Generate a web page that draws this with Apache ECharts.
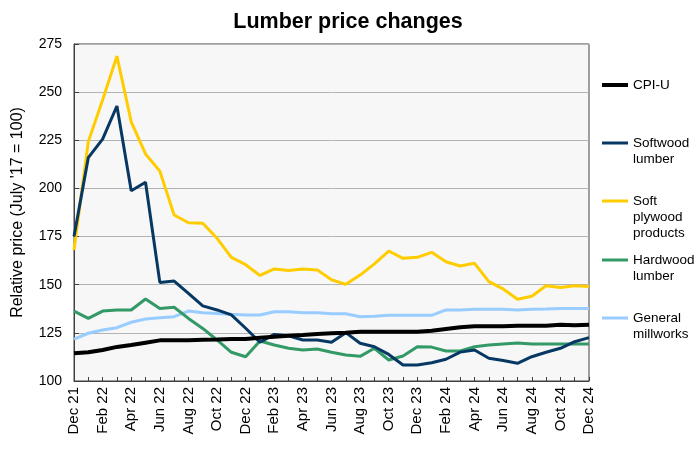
<!DOCTYPE html>
<html>
<head>
<meta charset="utf-8">
<script src="https://cdn.jsdelivr.net/npm/echarts@6/dist/echarts.min.js"></script>
<style>html,body{margin:0;padding:0;background:#fff}#c{width:696px;height:450px}</style>
</head>
<body>
<div id="c"></div>
<script>
const months = ["Dec 21","Jan 22","Feb 22","Mar 22","Apr 22","May 22","Jun 22","Jul 22","Aug 22","Sep 22","Oct 22","Nov 22",
  "Dec 22","Jan 23","Feb 23","Mar 23","Apr 23","May 23","Jun 23","Jul 23","Aug 23","Sep 23","Oct 23","Nov 23",
  "Dec 23","Jan 24","Feb 24","Mar 24","Apr 24","May 24","Jun 24","Jul 24","Aug 24","Sep 24","Oct 24","Nov 24","Dec 24"];
const cpiU = [114.4,114.9,116.1,117.7,118.7,119.9,121.1,121.1,121.1,121.4,121.5,121.8,121.8,122.5,123.0,123.5,123.9,124.4,124.8,125.1,125.6,125.6,125.6,125.6,125.6,126.1,127.0,127.9,128.4,128.4,128.4,128.7,128.7,128.7,129.2,128.9,129.2];
const softwoodLumber = [175,216,225.6,242.8,198.8,203.2,151.2,151.9,145.5,139,136.9,134.3,127.4,120.1,124.2,123.5,121.3,121.3,120.1,125.1,119.6,117.8,113.8,108.3,108.3,109.5,111.3,115,116.1,111.8,110.6,109.2,112.6,114.9,117,120.4,122.5];
const softPlywood = [168,224.3,245.9,268.7,234.6,217.9,209,186.2,182.2,181.9,174.1,164.2,160.4,154.8,158.2,157.4,158.2,157.7,152.6,150.2,155,160.8,167.5,163.7,164.2,166.8,161.9,159.7,161.1,151.6,147.8,142.5,144,149.5,148.6,149.5,149.1];
const hardwoodLumber = [136.3,132.5,136.3,136.9,136.9,142.6,137.7,138.3,132.5,127.3,121.3,114.9,112.6,120.8,118.7,117,116.1,116.6,114.9,113.5,112.8,117,110.9,113,117.8,117.6,115.6,115.6,117.8,118.7,119.2,119.7,119.2,119.2,119.2,119.2,119.2];
const generalMillworks = [121.8,124.8,126.5,127.7,130.5,132.2,132.9,133.4,136.3,135.5,135.1,134.6,134.3,134.3,136,136,135.5,135.5,134.9,134.9,133.4,133.6,134.1,134.1,134.1,134.1,136.9,136.9,137.3,137.3,137.3,136.9,137.3,137.4,137.7,137.7,137.7];

const seriesDefs = [
  {name:"CPI-U", data:cpiU, color:"#000000", width:4, label:"CPI-U", top:85},
  {name:"Softwood lumber", data:softwoodLumber, color:"#073763", width:3, label:"Softwood\nlumber", top:143},
  {name:"Soft plywood products", data:softPlywood, color:"#ffcc00", width:3, label:"Soft\nplywood\nproducts", top:201},
  {name:"Hardwood lumber", data:hardwoodLumber, color:"#339966", width:3, label:"Hardwood\nlumber", top:260},
  {name:"General millworks", data:generalMillworks, color:"#99ccff", width:3, label:"General\nmillworks", top:318}
];
const FONT = "'Liberation Sans', Arial, sans-serif";
const LH = 16;

const chart = echarts.init(document.getElementById('c'), null, {renderer:'canvas'});
chart.setOption({
  animation:false,
  textStyle:{fontFamily:FONT},
  title:{text:"Lumber price changes", left:'center', top:6,
    textStyle:{fontFamily:FONT, fontSize:21.5, fontWeight:'bold', color:'#000'}},
  legend: seriesDefs.map(s => {
    const lines = s.label.split("\n");
    const n = lines.length;
    const padded = Array(n-1).fill("\u00a0").concat(lines).join("\n");
    return {
      data:[s.name], left:602, top:s.top - (2*n-1)*LH/2, orient:'vertical',
      icon:'rect', itemWidth:26, itemHeight:s.width, itemGap:0, padding:0,
      selectedMode:false,
      formatter:() => padded,
      textStyle:{fontFamily:FONT, fontSize:13.5, color:'#000', lineHeight:LH}
    };
  }),
  grid:{left:74, right:107, top:44, bottom:69, show:true, backgroundColor:'#f7f7f7',
    borderColor:'#404040', borderWidth:1},
  xAxis:{type:'category', data:months, boundaryGap:false,
    axisLine:{lineStyle:{color:'#404040', width:1}},
    axisTick:{inside:true, length:4, interval:0, lineStyle:{color:'#404040'}},
    axisLabel:{interval:1, rotate:90, fontFamily:FONT, fontSize:15, color:'#000', margin:6},
    splitLine:{show:false}},
  yAxis:{type:'value', min:100, max:275, interval:25,
    name:"Relative price (July '17 = 100)", nameLocation:'middle', nameGap:48,
    nameTextStyle:{fontFamily:FONT, fontSize:16, color:'#000'},
    axisLine:{show:true, lineStyle:{color:'#404040'}},
    axisTick:{show:true, inside:true, length:5, lineStyle:{color:'#404040'}},
    axisLabel:{fontFamily:FONT, fontSize:14, color:'#000', margin:12},
    splitLine:{lineStyle:{color:'#b3b3b3', width:1}}},
  series: seriesDefs.map(s => ({
    name:s.name, type:'line', data:s.data, symbol:'none', smooth:false,
    lineStyle:{color:s.color, width:s.width}, itemStyle:{color:s.color}
  })).reverse()
});
</script>
</body>
</html>
